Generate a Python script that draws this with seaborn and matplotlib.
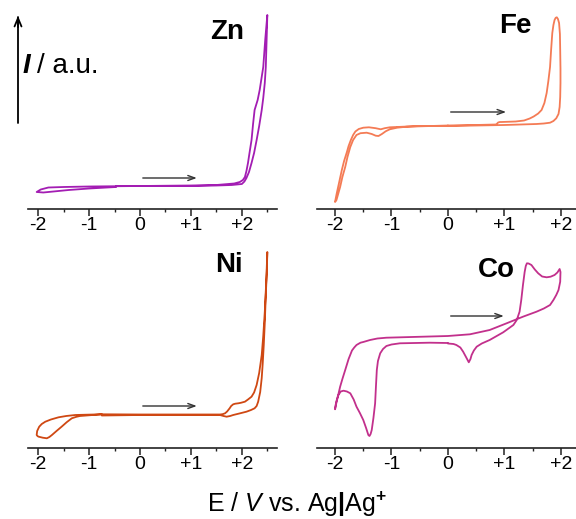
import numpy as np
import pandas as pd
import seaborn as sns
import matplotlib.pyplot as plt
from matplotlib.ticker import FixedLocator, FixedFormatter, MultipleLocator

# ---- data (E in V, I in a.u.) ----
zn_E = [-0.47, 0.0, 0.5, 1.0, 1.5, 1.8, 2.0, 2.05, 2.09, 2.14, 2.19, 2.24, 2.29, 2.34,
        2.39, 2.42, 2.45, 2.47, 2.48, 2.49, 2.50,
        2.46, 2.42, 2.35, 2.31, 2.25, 2.22, 2.19, 2.15, 2.12, 2.09, 2.06, 2.02, 1.96,
        1.85, 1.5, 1.0, 0.0, -1.0, -1.5, -1.8, -1.95, -2.03,
        -1.9, -1.7, -1.4, -1.0, -0.47]
zn_I = [23, 23, 23, 23, 23.5, 24, 25, 27.5, 31, 37, 46, 56, 69, 83,
        99, 111, 126, 142, 159, 176, 194,
        170, 142, 119, 109, 99, 85, 69, 56, 46, 38, 32, 29, 27,
        25.5, 24, 23.5, 23, 22.5, 22, 21.5, 19.5, 17,
        16.5, 17.5, 19, 20.5, 22]

fe_E = [0.0, 0.5, 0.85, 0.87, 0.89, 0.92, 0.95, 1.2, 1.35, 1.45, 1.52, 1.6, 1.66, 1.71,
        1.75, 1.78, 1.81, 1.83, 1.85, 1.87, 1.89, 1.91, 1.93, 1.95, 1.97, 1.985, 1.99,
        1.995, 1.995, 1.99, 1.98, 1.96, 1.92, 1.87, 1.81, 1.7, 1.57, 1.0, 0.5, 0.0,
        -0.5, -1.03, -1.12, -1.19, -1.28, -1.40, -1.5, -1.58, -1.64, -1.68, -1.72,
        -1.76, -1.79, -1.84, -1.88, -1.93, -1.97, -1.99, -2.0, -1.975, -1.95, -1.91,
        -1.87, -1.82, -1.78, -1.73, -1.68, -1.62, -1.55, -1.44, -1.35, -1.28, -1.23,
        -1.17, -1.1, -1.03, -0.9, -0.73, -0.3, 0.0]
fe_I = [83.5, 84, 84.5, 85.3, 86.5, 87, 87, 87.5, 88.5, 90.5, 92.5, 95.5, 99, 106,
        116, 128, 142, 160, 176, 184, 189, 191.2, 191.7, 190, 186, 175, 159,
        140, 126, 112, 102, 95, 90.7, 88, 86.3, 85.5, 85, 84, 83.5, 83,
        83, 81.7, 80.8, 79.7, 80.8, 81.7, 81.3, 80, 77.5, 74, 69,
        63, 57, 48, 39, 26, 15.7, 10, 7, 9, 14, 22,
        32, 42, 52, 62, 69, 74, 75.8, 76.3, 75, 73.3, 73,
        75, 77.8, 79.7, 81.3, 82.3, 83, 83.5]

ni_E = [-0.75, 0.0, 1.0, 1.57, 1.64, 1.70, 1.77, 1.83, 1.95, 2.09, 2.18, 2.25, 2.29,
        2.32, 2.36, 2.39, 2.41, 2.43, 2.45, 2.47, 2.49, 2.50,
        2.48, 2.45, 2.42, 2.39, 2.34, 2.29, 2.24, 2.19, 2.12, 2.06, 1.98, 1.93, 1.87,
        1.83, 1.79, 1.76, 1.71, 1.67, 1.62, 1.57, 1.0, 0.0, -0.75,
        -1.18, -1.25, -1.34, -1.44, -1.54, -1.64, -1.73, -1.78, -1.83, -1.91, -1.99,
        -2.01, -2.03, -2.02, -1.98, -1.93, -1.86, -1.75, -1.6, -1.45, -1.27, -0.75]
ni_I = [32.5, 33, 33, 33, 32, 31.3, 32, 33, 34.5, 36.3, 38, 39.7, 42,
        46.3, 56, 70, 85, 103, 125, 153, 176, 196,
        168, 136, 112, 93, 75, 63, 55.5, 51.3, 48.5, 46.3, 45.2, 44.7, 44.3,
        43.7, 42, 39.7, 36.5, 34.7, 33.8, 33.5, 33.5, 33.5, 33.7,
        32, 31.2, 29.7, 25.8, 21.3, 17, 13, 11, 9.7, 10.3, 11.3,
        11.8, 13, 17, 21.3, 24, 26.3, 28.5, 30.7, 32, 33, 33.7]

co_E = [0.0, 0.1, 0.15, 0.22, 0.27, 0.33, 0.37, 0.40, 0.42, 0.46, 0.51, 0.6, 0.74,
        0.98, 1.16, 1.22, 1.27, 1.30, 1.33, 1.36, 1.38, 1.40, 1.43, 1.48, 1.54, 1.60,
        1.67, 1.75, 1.82, 1.89, 1.94, 1.98, 1.995, 1.99, 1.96, 1.92, 1.87, 1.81, 1.7,
        1.57, 1.33, 1.04, 0.74, 0.39, 0.0, -0.32, -1.09, -1.25, -1.38, -1.5, -1.55,
        -1.62, -1.66, -1.70, -1.76, -1.82, -1.87, -1.91, -1.94, -1.97, -1.99, -2.0,
        -1.97, -1.94, -1.90, -1.85, -1.79, -1.73, -1.67, -1.62, -1.56, -1.50, -1.45,
        -1.41, -1.39, -1.37, -1.35, -1.32, -1.29, -1.275, -1.26, -1.24, -1.20, -1.15,
        -1.09, -1.0, -0.85, -0.32, 0.0]
co_I = [104.5, 104, 103, 100.5, 96.3, 90, 85.7, 89, 93, 97.5, 101.3, 104.5, 108,
        115.7, 123, 128, 136.3, 148, 163, 176, 182, 184.7, 184.5, 183, 178.5, 174.7,
        171.5, 170.7, 171.3, 173, 175.5, 179, 176, 166.3, 158, 153, 148, 143, 139.5,
        136.3, 131.3, 124.7, 118, 113.7, 112, 111.5, 110.3, 109.5, 108, 106, 105.3,
        103, 100.5, 97.5, 89, 78, 69, 61.3, 54, 48, 43, 38.7,
        47, 53, 56.5, 57.3, 56.5, 54.7, 48.5, 41.3, 35, 28, 20,
        13, 12, 14, 18, 30, 44.7, 62, 78, 87, 94.7, 99,
        102, 103.5, 104.7, 105.3, 105]

tick_pos = [-2, -1, 0, 1, 2]
tick_lab = ["-2", "-1", "0", "+1", "+2"]

sns.set_style("white")
plt.rcParams["font.family"] = ["Liberation Sans", "DejaVu Sans"]
plt.rcParams["text.color"] = "black"
plt.rcParams["xtick.color"] = "black"
plt.rcParams["mathtext.fontset"] = "custom"
plt.rcParams["mathtext.rm"] = "Liberation Sans"
plt.rcParams["mathtext.it"] = "Liberation Sans:italic"
plt.rcParams["mathtext.bf"] = "Liberation Sans:bold"

fig = plt.figure(figsize=(5.76, 5.19), dpi=100)
W, H = 576, 519

panels = [
    ("Zn", zn_E, zn_I, "#a31db3", [28, 310, 249, 209], (-2.2, 2.69), 209, (1.72, 177), 31, 1.17),
    ("Fe", fe_E, fe_I, "#f47b55", [317, 310, 259, 209], (-2.32, 2.27), 209, (1.2, 183), 97, 1.08),
    ("Ni", ni_E, ni_I, "#cf4813", [28, 71, 249, 198], (-2.2, 2.69), 198, (1.75, 183), 42, 1.17),
    ("Co", co_E, co_I, "#c2308c", [317, 71, 259, 198], (-2.32, 2.27), 198, (0.86, 178), 132, 1.04),
]

for name, E, I, color, box, xlim, ytop, lab_xy, arr_y, arr_end in panels:
    ax = fig.add_axes([box[0] / W, box[1] / H, box[2] / W, box[3] / H])
    ax.patch.set_alpha(0)
    df = pd.DataFrame({"E": E, "I": I})
    sns.lineplot(data=df, x="E", y="I", sort=False, estimator=None,
                 color=color, lw=1.3, ax=ax, solid_joinstyle="round")
    ax.set_xlim(*xlim)
    ax.set_ylim(0, ytop)
    for s in ["top", "left", "right"]:
        ax.spines[s].set_visible(False)
    ax.spines["bottom"].set_linewidth(1.2)
    ax.spines["bottom"].set_color("#222222")
    ax.set_yticks([])
    ax.xaxis.set_major_locator(FixedLocator(tick_pos))
    ax.xaxis.set_major_formatter(FixedFormatter(tick_lab))
    ax.xaxis.set_minor_locator(MultipleLocator(0.5))
    ax.tick_params(axis="x", which="major", direction="out", length=5, width=1.1,
                   color="#222222", labelcolor="black", labelsize=14, pad=1, bottom=True)
    ax.tick_params(axis="x", which="minor", direction="out", length=2.5, width=1,
                   color="#222222", bottom=True)
    ax.set_xlabel("")
    ax.set_ylabel("")
    ax.text(lab_xy[0], lab_xy[1], name, fontsize=20, fontweight="bold",
            ha="center", va="center", color="black")
    ax.annotate("", xy=(arr_end, arr_y), xytext=(0, arr_y),
                arrowprops=dict(arrowstyle="->,head_length=0.5,head_width=0.18",
                                color="#333333", lw=1))

# y label with vertical arrow
ax0 = fig.axes[0]
fig.add_artist(plt.Line2D([18 / W, 18 / W], [1 - 123 / H, 1 - 17 / H], color="black", lw=1.3))
ax0.annotate("", xy=(18 / W, 1 - 13 / H), xytext=(18 / W, 1 - 30 / H),
             xycoords="figure fraction", textcoords="figure fraction",
             arrowprops=dict(arrowstyle="->,head_length=0.6,head_width=0.25",
                             color="black", lw=1.3))
fig.text(23 / W, 1 - 66 / H, "I", fontsize=20, style="italic", fontweight="bold",
         va="center", ha="left")
fig.text(37 / W, 1 - 66 / H, "/ a.u.", fontsize=20, va="center", ha="left")

fig.text(297 / W, 1 - 504 / H, r"E / $\mathit{V}$ vs. Ag$\mathbf{|}$Ag$^{\mathbf{+}}$",
         fontsize=18, ha="center", va="center")

fig.savefig("out.png", dpi=100)
